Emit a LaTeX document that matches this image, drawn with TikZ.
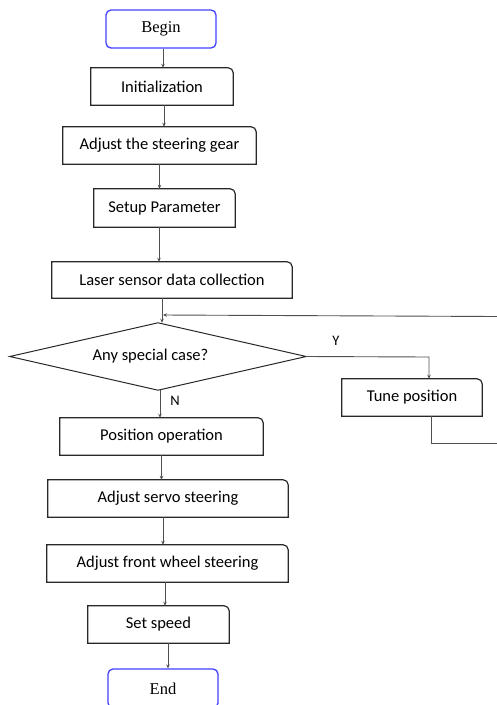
\documentclass[tikz,border=0pt]{standalone}
\usepackage{fontspec}
\setmainfont{Carlito}
\newfontfamily\termfont{Liberation Serif}
\usetikzlibrary{arrows.meta,calc}

\definecolor{termblue}{RGB}{64,64,255}
\definecolor{linegray}{RGB}{80,80,80}
\definecolor{boxgray}{RGB}{40,40,40}

\tikzset{
  x=1pt, y=-1pt,
  term/.style={draw=termblue, line width=1.3pt, rounded corners=5pt,
    inner sep=0pt, font=\termfont\fontsize{16.5}{19}\selectfont},
  procbox/.style={inner sep=0pt, font=\fontsize{16.5}{19}\selectfont},
  boxline/.style={draw=boxgray, line width=1.2pt},
  arr/.style={draw=linegray, line width=0.9pt, -{Stealth[length=4pt,width=3.5pt]}},
  conn/.style={draw=linegray, line width=0.9pt},
  yn/.style={inner sep=0pt, font=\fontsize{14.5}{17}\selectfont}
}

\begin{document}
\begin{tikzpicture}
\useasboundingbox (0,0) rectangle (497,705);
\clip (0,0) rectangle (497,705);

% terminals
\node[term, minimum width=110pt, minimum height=38pt] (begin) at (161,29) {Begin};
\node[term, minimum width=110pt, minimum height=39pt] (end) at (163,688.5) {End};

% process boxes
\node[procbox, minimum width=142pt, minimum height=37pt] (init)  at (162,86.5)  {Initialization};
\node[procbox, minimum width=193pt, minimum height=37pt] (gear)  at (159.5,145.5) {Adjust the steering gear};
\node[procbox, minimum width=141pt, minimum height=38pt] (param) at (164.5,208) {Setup Parameter};
\node[procbox, minimum width=240pt, minimum height=36pt] (laser) at (172,280)   {Laser sensor data collection};
\node[procbox, minimum width=140pt, minimum height=37pt] (tune)  at (412,397.5) {Tune position};
\node[procbox, minimum width=203pt, minimum height=37pt] (posop) at (161.5,436.5) {Position operation};
\node[procbox, minimum width=240pt, minimum height=37pt] (servo) at (168,498.5) {Adjust servo steering};
\node[procbox, minimum width=241pt, minimum height=37pt] (front) at (167.5,563.5) {Adjust front wheel steering};
\node[procbox, minimum width=141pt, minimum height=37pt] (speed) at (158.5,624.5) {Set speed};

% outlines: square corners except a rounded top-right one
\foreach \n in {init,gear,param,laser,tune,posop,servo,front,speed}
  \draw[boxline] (\n.south west) -- (\n.north west) -- ([xshift=-5pt]\n.north east)
    arc[start angle=90, end angle=0, radius=5pt] -- (\n.south east) -- cycle;

% decision (label sits a little left of the diamond's centre)
\node[procbox, minimum width=296pt, minimum height=67pt] (case) at (158,356.5) {Any special case?\hspace*{15pt}};
\draw[boxline, line width=1pt] (case.north) -- (case.east) -- (case.south) -- (case.west) -- cycle;

% junction above the decision and loop-back entry at the right edge
\coordinate (merge) at (162,315);
\coordinate (loopin) at (497,316.5);
\coordinate (tunebend) at (431,443);
\coordinate (loopout) at (497,443);
\coordinate (ybend) at (429,357);

% main flow
\draw[arr] ([xshift=2pt]begin.south) -- ([xshift=2pt]begin.south |- init.north);
\draw[arr] ([xshift=2pt]init.south) -- ([xshift=2pt]init.south |- gear.north);
\draw[arr] (gear.south) -- (gear.south |- param.north);
\draw[arr] ([xshift=-5.5pt]param.south) -- ([xshift=-5.5pt]param.south |- laser.north);
\draw[conn] (laser.south -| merge) -- (merge);
\draw[arr] (merge) -- (merge |- case.north);
\draw[arr] (loopin) -- ([xshift=1pt]merge);

% yes branch
\draw[arr] (case.east) -- (ybend) -- (ybend |- tune.north);
\draw[conn] (tune.south -| tunebend) -- (tunebend) -- (loopout);
\node[yn] (ylab) at (336,341) {Y};

% no branch and the rest of the flow
\draw[arr] ([xshift=2pt]case.south) -- ([xshift=2pt]case.south |- posop.north);
\node[yn] (nlab) at (175,401) {N};
\draw[arr] (posop.south) -- (posop.south |- servo.north);
\draw[arr] ([xshift=-5pt]servo.south) -- ([xshift=-5pt]servo.south |- front.north);
\draw[arr] ([xshift=-2.5pt]front.south) -- ([xshift=-2.5pt]front.south |- speed.north);
\draw[arr] ([xshift=9.5pt]speed.south) -- ([xshift=9.5pt]speed.south |- end.north);
\end{tikzpicture}
\end{document}
